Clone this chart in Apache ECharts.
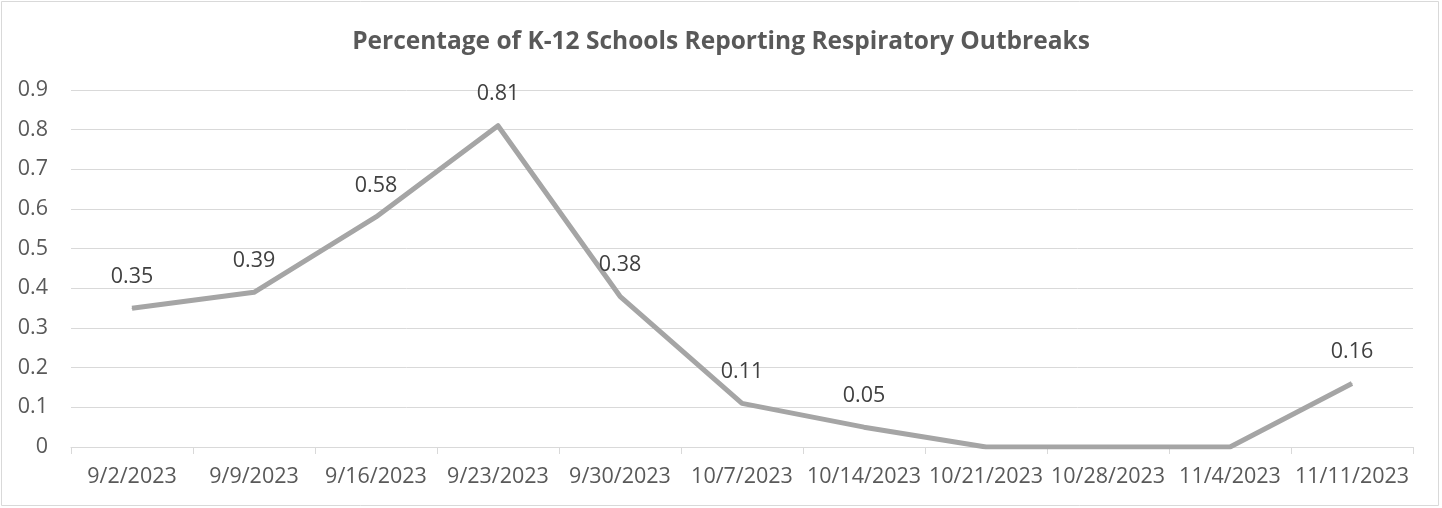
<!DOCTYPE html>
<html>
<head>
<meta charset="utf-8">
<script src="https://cdn.jsdelivr.net/npm/echarts@6/dist/echarts.min.js"></script>
<style>
html,body{margin:0;padding:0;background:#fff;}
#chart{width:1442px;height:508px;}
</style>
</head>
<body>
<div id="chart"></div>
<script>
const titleText = 'Percentage of K-12 Schools Reporting Respiratory Outbreaks';
const categories = ['9/2/2023','9/9/2023','9/16/2023','9/23/2023','9/30/2023','10/7/2023','10/14/2023','10/21/2023','10/28/2023','11/4/2023','11/11/2023'];
const values = [0.35,0.39,0.58,0.81,0.38,0.11,0.05,0,0,0,0.16];
const yTicks = [0,0.1,0.2,0.3,0.4,0.5,0.6,0.7,0.8,0.9];

const font = '"Open Sans", "Liberation Sans", sans-serif';
const chart = echarts.init(document.getElementById('chart'), null, {renderer:'canvas'});
chart.setOption({
  animation:false,
  backgroundColor:'#ffffff',
  title:{
    text:titleText, left:'center', top:25,
    textStyle:{fontFamily:font, fontWeight:'bold', fontSize:24.5, color:'#595959'}
  },
  graphic:[{type:'rect', shape:{x:1.5,y:1.5,width:1437,height:504}, style:{fill:'none', stroke:'#d9d9d9', lineWidth:1}}],
  grid:{left:71, right:29, top:90, bottom:61, containLabel:false},
  xAxis:{
    type:'category', data:categories, boundaryGap:true,
    axisLine:{lineStyle:{color:'#d9d9d9', width:1}},
    axisTick:{show:true, length:7, lineStyle:{color:'#d9d9d9'}},
    axisLabel:{fontFamily:font, fontSize:21.5, color:'#595959', margin:19, interval:0}
  },
  yAxis:{
    type:'value', min:yTicks[0], max:yTicks[yTicks.length-1], interval:0.1,
    axisLine:{show:false}, axisTick:{show:false},
    splitLine:{lineStyle:{color:'#d9d9d9', width:1}},
    axisLabel:{fontFamily:font, fontSize:21.5, color:'#595959', margin:23,
      formatter:v=>String(Math.round(v*10)/10)}
  },
  series:[{
    type:'line', data:values, symbol:'circle', symbolSize:1, showSymbol:true,
    itemStyle:{color:'#a5a5a5'},
    lineStyle:{color:'#a5a5a5', width:5, join:'round'},
    label:{show:true, position:'top', distance:20, fontFamily:font, fontSize:21.5, color:'#404040',
      formatter:p=>p.value===0?'':String(p.value)}
  }]
});
</script>
</body>
</html>
